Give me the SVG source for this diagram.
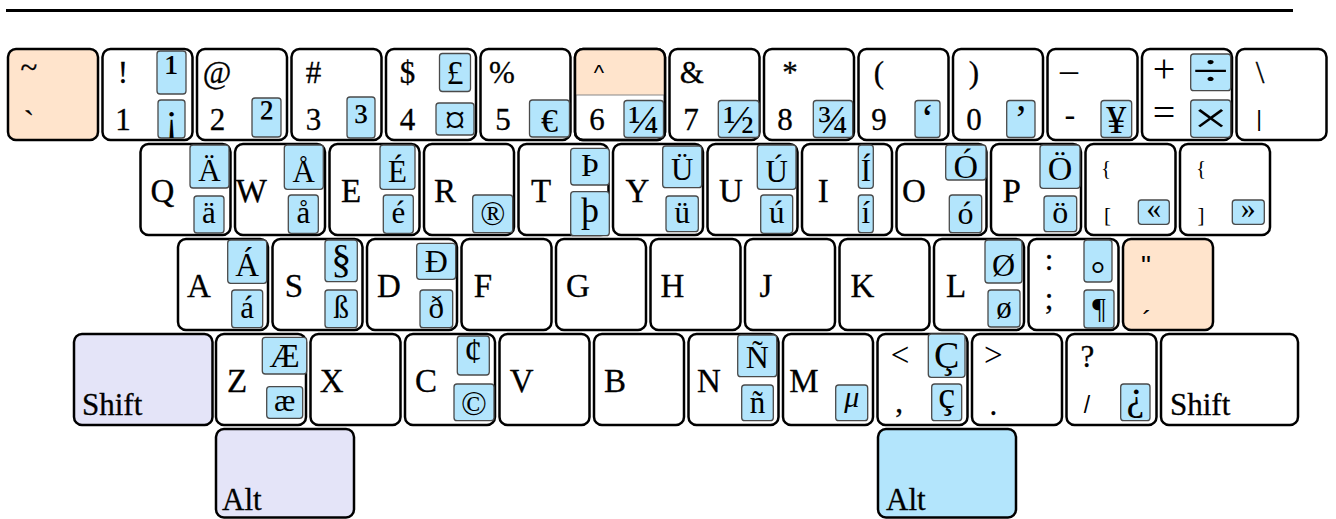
<svg xmlns="http://www.w3.org/2000/svg" width="1336" height="519" viewBox="0 0 1336 519">
<style>
.k{fill:#fff;stroke:#000;stroke-width:2.5}
.o{fill:none;stroke:#000;stroke-width:2.5}
.pe{fill:#ffe4cc}
.lv{fill:#e4e4f8}
.bl{fill:#b3e5fc}
.b{fill:#b3e5fc;stroke:#4a4a4a;stroke-width:1.3}
text{font-family:"Liberation Serif","Times New Roman",serif;fill:#000;text-anchor:middle}
.s{font-size:31px;stroke:#000;stroke-width:0.3px}
.L{font-size:33px;stroke:#000;stroke-width:0.3px}
.st{text-anchor:start;font-size:31px;stroke:#000;stroke-width:0.3px}
.sans{font-family:"Liberation Sans",Arial,sans-serif}
</style>
<line x1="6" y1="10.5" x2="1293" y2="10.5" stroke="#000" stroke-width="3"/>

<g id="key-grave"><rect class="k pe" x="8" y="49" width="90" height="91" rx="8"/><text class="s" x="29" y="78" font-size="32">~</text><text class="s" x="29" y="132">`</text></g>
<g id="key-1"><rect class="k" x="102.5" y="49" width="90" height="91" rx="8"/><text class="s" x="123" y="83">!</text><text class="s" x="123" y="130">1</text><rect class="b" x="157" y="51" width="29" height="43" rx="3"/><text x="171.5" y="86" font-size="44">¹</text><rect class="b" x="158" y="100" width="27" height="38" rx="3"/><text x="171.5" y="130" font-size="38">¡</text></g>
<g id="key-2"><rect class="k" x="197" y="49" width="90" height="91" rx="8"/><text class="s" x="217" y="83">@</text><text class="s" x="217.5" y="130">2</text><rect class="b" x="252" y="98" width="29" height="39" rx="3"/><text x="266.5" y="132" font-size="46">²</text></g>
<g id="key-3"><rect class="k" x="291.5" y="49" width="90" height="91" rx="8"/><text class="s" x="313.5" y="83">#</text><text class="s" x="313.5" y="130">3</text><rect class="b" x="347" y="97" width="28" height="41" rx="3"/><text x="361" y="134.6" font-size="44">³</text></g>
<g id="key-4"><rect class="k" x="386" y="49" width="90" height="91" rx="8"/><text class="s" x="407.5" y="83">$</text><text class="s" x="407.5" y="130">4</text><rect class="b" x="439.5" y="53.5" width="31" height="38" rx="3"/><text x="455" y="83.5" font-size="34">£</text><rect class="b" x="436" y="103" width="38" height="32" rx="3"/><text x="455" y="134" font-size="42">¤</text></g>
<g id="key-5"><rect class="k" x="480.5" y="49" width="90" height="91" rx="8"/><text class="s" x="502" y="83">%</text><text class="s" x="503" y="130">5</text><rect class="b" x="529.5" y="100" width="40" height="37" rx="3"/><text x="549.5" y="131.7" font-size="34">€</text></g>
<g id="key-6"><rect class="k" x="575" y="49" width="90" height="91" rx="8"/><path class="pe" d="M575,95V57a8,8 0 0 1 8,-8H657a8,8 0 0 1 8,8V95Z"/><line x1="575" y1="95" x2="665" y2="95" stroke="#888" stroke-width="1"/><rect class="o" x="575" y="49" width="90" height="91" rx="8"/><text class="sans" x="599" y="80" font-size="22">^</text><text class="s" x="597" y="130">6</text><rect class="b" x="624" y="100.5" width="39.5" height="37" rx="3"/><text x="643.7" y="132.5" font-size="41">¼</text></g>
<g id="key-7"><rect class="k" x="669.5" y="49" width="90" height="91" rx="8"/><text class="s" x="691.7" y="83">&amp;</text><text class="s" x="691" y="130">7</text><rect class="b" x="718.3" y="100.5" width="40.7" height="37" rx="3"/><text x="738.6" y="132.5" font-size="41">½</text></g>
<g id="key-8"><rect class="k" x="764" y="49" width="90" height="91" rx="8"/><text class="s" x="790" y="83">*</text><text class="s" x="785" y="130">8</text><rect class="b" x="813.3" y="100.5" width="39.4" height="37" rx="3"/><text x="833" y="132.5" font-size="41">¾</text></g>
<g id="key-9"><rect class="k" x="858.5" y="49" width="90" height="91" rx="8"/><text class="s" x="879" y="83">(</text><text class="s" x="879" y="130">9</text><rect class="b" x="915" y="100.5" width="25" height="37" rx="3"/><text x="927.5" y="132" font-size="40">‘</text></g>
<g id="key-0"><rect class="k" x="953" y="49" width="90" height="91" rx="8"/><text class="s" x="974" y="83">)</text><text class="s" x="974" y="130">0</text><rect class="b" x="1006.7" y="100.5" width="28.3" height="37" rx="3"/><text x="1020.8" y="132" font-size="40">’</text></g>
<g id="key-minus"><rect class="k" x="1047.5" y="49" width="90" height="91" rx="8"/><text x="1069" y="68.5" font-size="36">_</text><text class="sans" x="1070" y="127" font-size="34">-</text><rect class="b" x="1101" y="100.5" width="30.7" height="37" rx="3"/><text x="1116.3" y="133.3" font-size="40">¥</text></g>
<g id="key-equal"><rect class="k" x="1142" y="49" width="90" height="91" rx="8"/><text x="1164" y="82" font-size="40">+</text><text x="1164" y="126" font-size="40">=</text><rect class="b" x="1190.7" y="54" width="40" height="36.7" rx="3"/><text transform="translate(1210.7 0) scale(1.5 1)" x="0" y="85" font-size="44">÷</text><rect class="b" x="1190.7" y="100" width="40" height="37.3" rx="3"/><text transform="translate(1210.7 0) scale(1.4 1)" x="0" y="133.5" font-size="44">×</text></g>
<g id="key-backslash"><rect class="k" x="1236.5" y="49" width="90" height="91" rx="8"/><text class="s" x="1260" y="83">\</text><text class="sans" x="1259" y="125.5" font-size="22">|</text></g>

<g id="key-q"><rect class="k" x="140.5" y="144" width="90" height="91" rx="8"/><text class="L" x="162.5" y="202">Q</text><rect class="b" x="190" y="145" width="39" height="43" rx="3"/><text x="209.5" y="180.5" font-size="31">Ä</text><rect class="b" x="194" y="196" width="30" height="37" rx="3"/><text x="209" y="223" font-size="31">ä</text></g>
<g id="key-w"><rect class="k" x="235" y="144" width="90" height="91" rx="8"/><text class="L" x="251.3" y="202">W</text><rect class="b" x="284.3" y="145" width="39" height="44.3" rx="3"/><text x="303.8" y="181.5" font-size="31">Å</text><rect class="b" x="288.3" y="195" width="30" height="38.3" rx="3"/><text x="303.3" y="223" font-size="31">å</text></g>
<g id="key-e"><rect class="k" x="329.5" y="144" width="90" height="91" rx="8"/><text class="L" x="351" y="202">E</text><rect class="b" x="380" y="145" width="35" height="44.3" rx="3"/><text x="397.5" y="181.7" font-size="31">É</text><rect class="b" x="383.3" y="195" width="30" height="38.3" rx="3"/><text x="398.3" y="223" font-size="31">é</text></g>
<g id="key-r"><rect class="k" x="424" y="144" width="90" height="91" rx="8"/><text class="L" x="445" y="202">R</text><rect class="b" x="472.7" y="195" width="40" height="37.7" rx="3"/><text x="492.7" y="224.5" font-size="33">®</text></g>
<g id="key-t"><rect class="k" x="518.5" y="144" width="90" height="91" rx="8"/><text class="L" x="541" y="202">T</text><rect class="b" x="570.7" y="148.3" width="38.6" height="36.7" rx="3"/><text x="590" y="176" font-size="32">Þ</text><rect class="b" x="570.7" y="191.7" width="38.6" height="44" rx="3"/><text x="590" y="222" font-size="36">þ</text></g>
<g id="key-y"><rect class="k" x="613" y="144" width="90" height="91" rx="8"/><text class="L" x="637.5" y="202">Y</text><rect class="b" x="662.7" y="146" width="39" height="41.7" rx="3"/><text x="682.2" y="180" font-size="31">Ü</text><rect class="b" x="666" y="196" width="32.3" height="35.7" rx="3"/><text x="682.2" y="223" font-size="31">ü</text></g>
<g id="key-u"><rect class="k" x="707.5" y="144" width="90" height="91" rx="8"/><text class="L" x="731" y="202">U</text><rect class="b" x="757.3" y="145" width="38.7" height="44.3" rx="3"/><text x="776.7" y="181.7" font-size="31">Ú</text><rect class="b" x="760.7" y="195" width="32" height="38.3" rx="3"/><text x="776.7" y="223" font-size="31">ú</text></g>
<g id="key-i"><rect class="k" x="802" y="144" width="90" height="91" rx="8"/><text class="L" x="823.3" y="202">I</text><rect class="b" x="858.3" y="145" width="15" height="43.3" rx="3"/><text x="865.8" y="181" font-size="31">Í</text><rect class="b" x="858.3" y="195" width="15" height="37.7" rx="3"/><text x="865.8" y="223" font-size="31">í</text></g>
<g id="key-o"><rect class="k" x="896.5" y="144" width="90" height="91" rx="8"/><text class="L" x="914" y="202">O</text><rect class="b" x="945.7" y="145" width="40.3" height="35" rx="3"/><text x="965.8" y="178" font-size="34">Ó</text><rect class="b" x="949.3" y="195" width="32.4" height="37.7" rx="3"/><text x="965.5" y="224" font-size="32">ó</text></g>
<g id="key-p"><rect class="k" x="991" y="144" width="90" height="91" rx="8"/><text class="L" x="1011.7" y="202">P</text><rect class="b" x="1040" y="145" width="40" height="43.3" rx="3"/><text x="1060" y="180" font-size="34">Ö</text><rect class="b" x="1044" y="196" width="32.7" height="35.7" rx="3"/><text x="1060.3" y="223" font-size="32">ö</text></g>
<g id="key-lbracket"><rect class="k" x="1085.5" y="144" width="90" height="91" rx="8"/><text x="1106" y="175" font-size="21">{</text><text x="1107.5" y="222" font-size="21">[</text><rect class="b" x="1138.3" y="200" width="31" height="24.3" rx="3"/><text x="1153.8" y="217.6" font-size="30">«</text></g>
<g id="key-rbracket"><rect class="k" x="1180" y="144" width="90" height="91" rx="8"/><text x="1201" y="175" font-size="21">{</text><text x="1201" y="222" font-size="21">]</text><rect class="b" x="1232.3" y="200" width="32" height="24.3" rx="3"/><text x="1248.3" y="217.6" font-size="30">»</text></g>

<g id="key-a"><rect class="k" x="178" y="239" width="90" height="91" rx="8"/><text class="L" x="199" y="297">A</text><rect class="b" x="227.7" y="240" width="39" height="43.3" rx="3"/><text x="247.2" y="275.5" font-size="33">Á</text><rect class="b" x="231.7" y="290" width="31" height="37.7" rx="3"/><text x="247.2" y="318" font-size="31">á</text></g>
<g id="key-s"><rect class="k" x="272.5" y="239" width="90" height="91" rx="8"/><text class="L" x="294" y="297">S</text><rect class="b" x="325" y="240" width="32.3" height="41.7" rx="3"/><text x="341.2" y="272.4" font-size="40">§</text><rect class="b" x="325" y="290" width="32.3" height="37.7" rx="3"/><text x="341.2" y="318.3" font-size="31">ß</text></g>
<g id="key-d"><rect class="k" x="367" y="239" width="90" height="91" rx="8"/><text class="L" x="389" y="297">D</text><rect class="b" x="416.7" y="243.3" width="39" height="36" rx="3"/><text x="436.2" y="271.7" font-size="32">Đ</text><rect class="b" x="420" y="290" width="32.7" height="37.7" rx="3"/><text x="436.3" y="318.3" font-size="31">ð</text></g>
<g id="key-f"><rect class="k" x="461.5" y="239" width="90" height="91" rx="8"/><text class="L" x="483" y="297">F</text></g>
<g id="key-g"><rect class="k" x="556" y="239" width="90" height="91" rx="8"/><text class="L" x="578" y="297">G</text></g>
<g id="key-h"><rect class="k" x="650.5" y="239" width="90" height="91" rx="8"/><text class="L" x="672.5" y="297">H</text></g>
<g id="key-j"><rect class="k" x="745" y="239" width="90" height="91" rx="8"/><text class="L" x="766" y="297">J</text></g>
<g id="key-k"><rect class="k" x="839.5" y="239" width="90" height="91" rx="8"/><text class="L" x="862.5" y="297">K</text></g>
<g id="key-l"><rect class="k" x="934" y="239" width="90" height="91" rx="8"/><text class="L" x="956" y="297">L</text><rect class="b" x="985" y="240" width="37" height="43" rx="3"/><text x="1003.5" y="276" font-size="32">Ø</text><rect class="b" x="988" y="290" width="32" height="37" rx="3"/><text x="1004" y="318" font-size="31">ø</text></g>
<g id="key-semicolon"><rect class="k" x="1028.5" y="239" width="90" height="91" rx="8"/><text class="s" x="1049" y="270">:</text><text class="s" x="1049" y="309">;</text><rect class="b" x="1084" y="240" width="28" height="42" rx="3"/><text x="1098" y="286" font-size="36">°</text><rect class="b" x="1084" y="290" width="30" height="38" rx="3"/><text x="1099" y="318" font-size="30">¶</text></g>
<g id="key-quote"><rect class="k pe" x="1123" y="239" width="90" height="91" rx="8"/><text class="sans" x="1146" y="275" font-size="28">"</text><text class="sans" x="1147" y="330" font-size="28">´</text></g>

<g id="key-shift-left"><rect class="k lv" x="74" y="334" width="138.5" height="91" rx="8"/><text class="st" x="82" y="415">Shift</text></g>
<g id="key-z"><rect class="k" x="216" y="334" width="90" height="91" rx="8"/><text class="L" x="237" y="392">Z</text><rect class="b" x="262.3" y="337.3" width="44.4" height="36.7" rx="3"/><text x="284.5" y="366.7" font-size="34">Æ</text><rect class="b" x="266.7" y="386.7" width="36" height="31.6" rx="3"/><text x="284.7" y="411" font-size="32">æ</text></g>
<g id="key-x"><rect class="k" x="310.5" y="334" width="90" height="91" rx="8"/><text class="L" x="331.7" y="392">X</text></g>
<g id="key-c"><rect class="k" x="405" y="334" width="90" height="91" rx="8"/><text class="L" x="426" y="392">C</text><rect class="b" x="457.3" y="336" width="32" height="39" rx="3"/><text x="473.3" y="363" font-size="36">¢</text><rect class="b" x="454" y="384" width="40" height="36.7" rx="3"/><text x="474" y="414.5" font-size="34">©</text></g>
<g id="key-v"><rect class="k" x="499.5" y="334" width="90" height="91" rx="8"/><text class="L" x="521.7" y="392">V</text></g>
<g id="key-b"><rect class="k" x="594" y="334" width="90" height="91" rx="8"/><text class="L" x="615" y="392">B</text></g>
<g id="key-n"><rect class="k" x="688.5" y="334" width="90" height="91" rx="8"/><text class="L" x="709" y="392">N</text><rect class="b" x="737.7" y="335" width="39" height="41.7" rx="3"/><text x="757.2" y="368.3" font-size="32">Ñ</text><rect class="b" x="741.7" y="385" width="31.6" height="35.7" rx="3"/><text x="757.5" y="413" font-size="31">ñ</text></g>
<g id="key-m"><rect class="k" x="783" y="334" width="90" height="91" rx="8"/><text class="L" x="804" y="392">M</text><rect class="b" x="835.7" y="385" width="32" height="35.7" rx="3"/><text x="851.7" y="407" font-size="30" font-style="italic">μ</text></g>
<g id="key-comma"><rect class="k" x="877.5" y="334" width="90" height="91" rx="8"/><text x="900" y="366" font-size="33">&lt;</text><text class="s" x="899" y="411.5">,</text><rect class="b" x="928.3" y="334" width="36.7" height="43.3" rx="3"/><text x="946.7" y="368" font-size="38">Ç</text><rect class="b" x="931.7" y="384" width="30" height="36.7" rx="3"/><text x="946.7" y="408.3" font-size="38">ç</text></g>
<g id="key-period"><rect class="k" x="972" y="334" width="90" height="91" rx="8"/><text x="993.3" y="366" font-size="33">&gt;</text><text class="s" x="993.3" y="415">.</text></g>
<g id="key-slash"><rect class="k" x="1066.5" y="334" width="90" height="91" rx="8"/><text class="s" x="1087.5" y="366.7">?</text><text class="sans" x="1087" y="413" font-size="23">/</text><rect class="b" x="1120.7" y="384" width="29.3" height="36.7" rx="3"/><text x="1135.3" y="409.4" font-size="40">¿</text></g>
<g id="key-shift-right"><rect class="k" x="1161" y="334" width="137" height="91" rx="8"/><text class="st" x="1170" y="415">Shift</text></g>

<g id="key-alt-left"><rect class="k lv" x="216" y="429" width="138" height="88.5" rx="8"/><text class="st" x="222" y="510">Alt</text></g>
<g id="key-alt-right"><rect class="k bl" x="878" y="429" width="138" height="88.5" rx="8"/><text class="st" x="886" y="510">Alt</text></g>
</svg>
